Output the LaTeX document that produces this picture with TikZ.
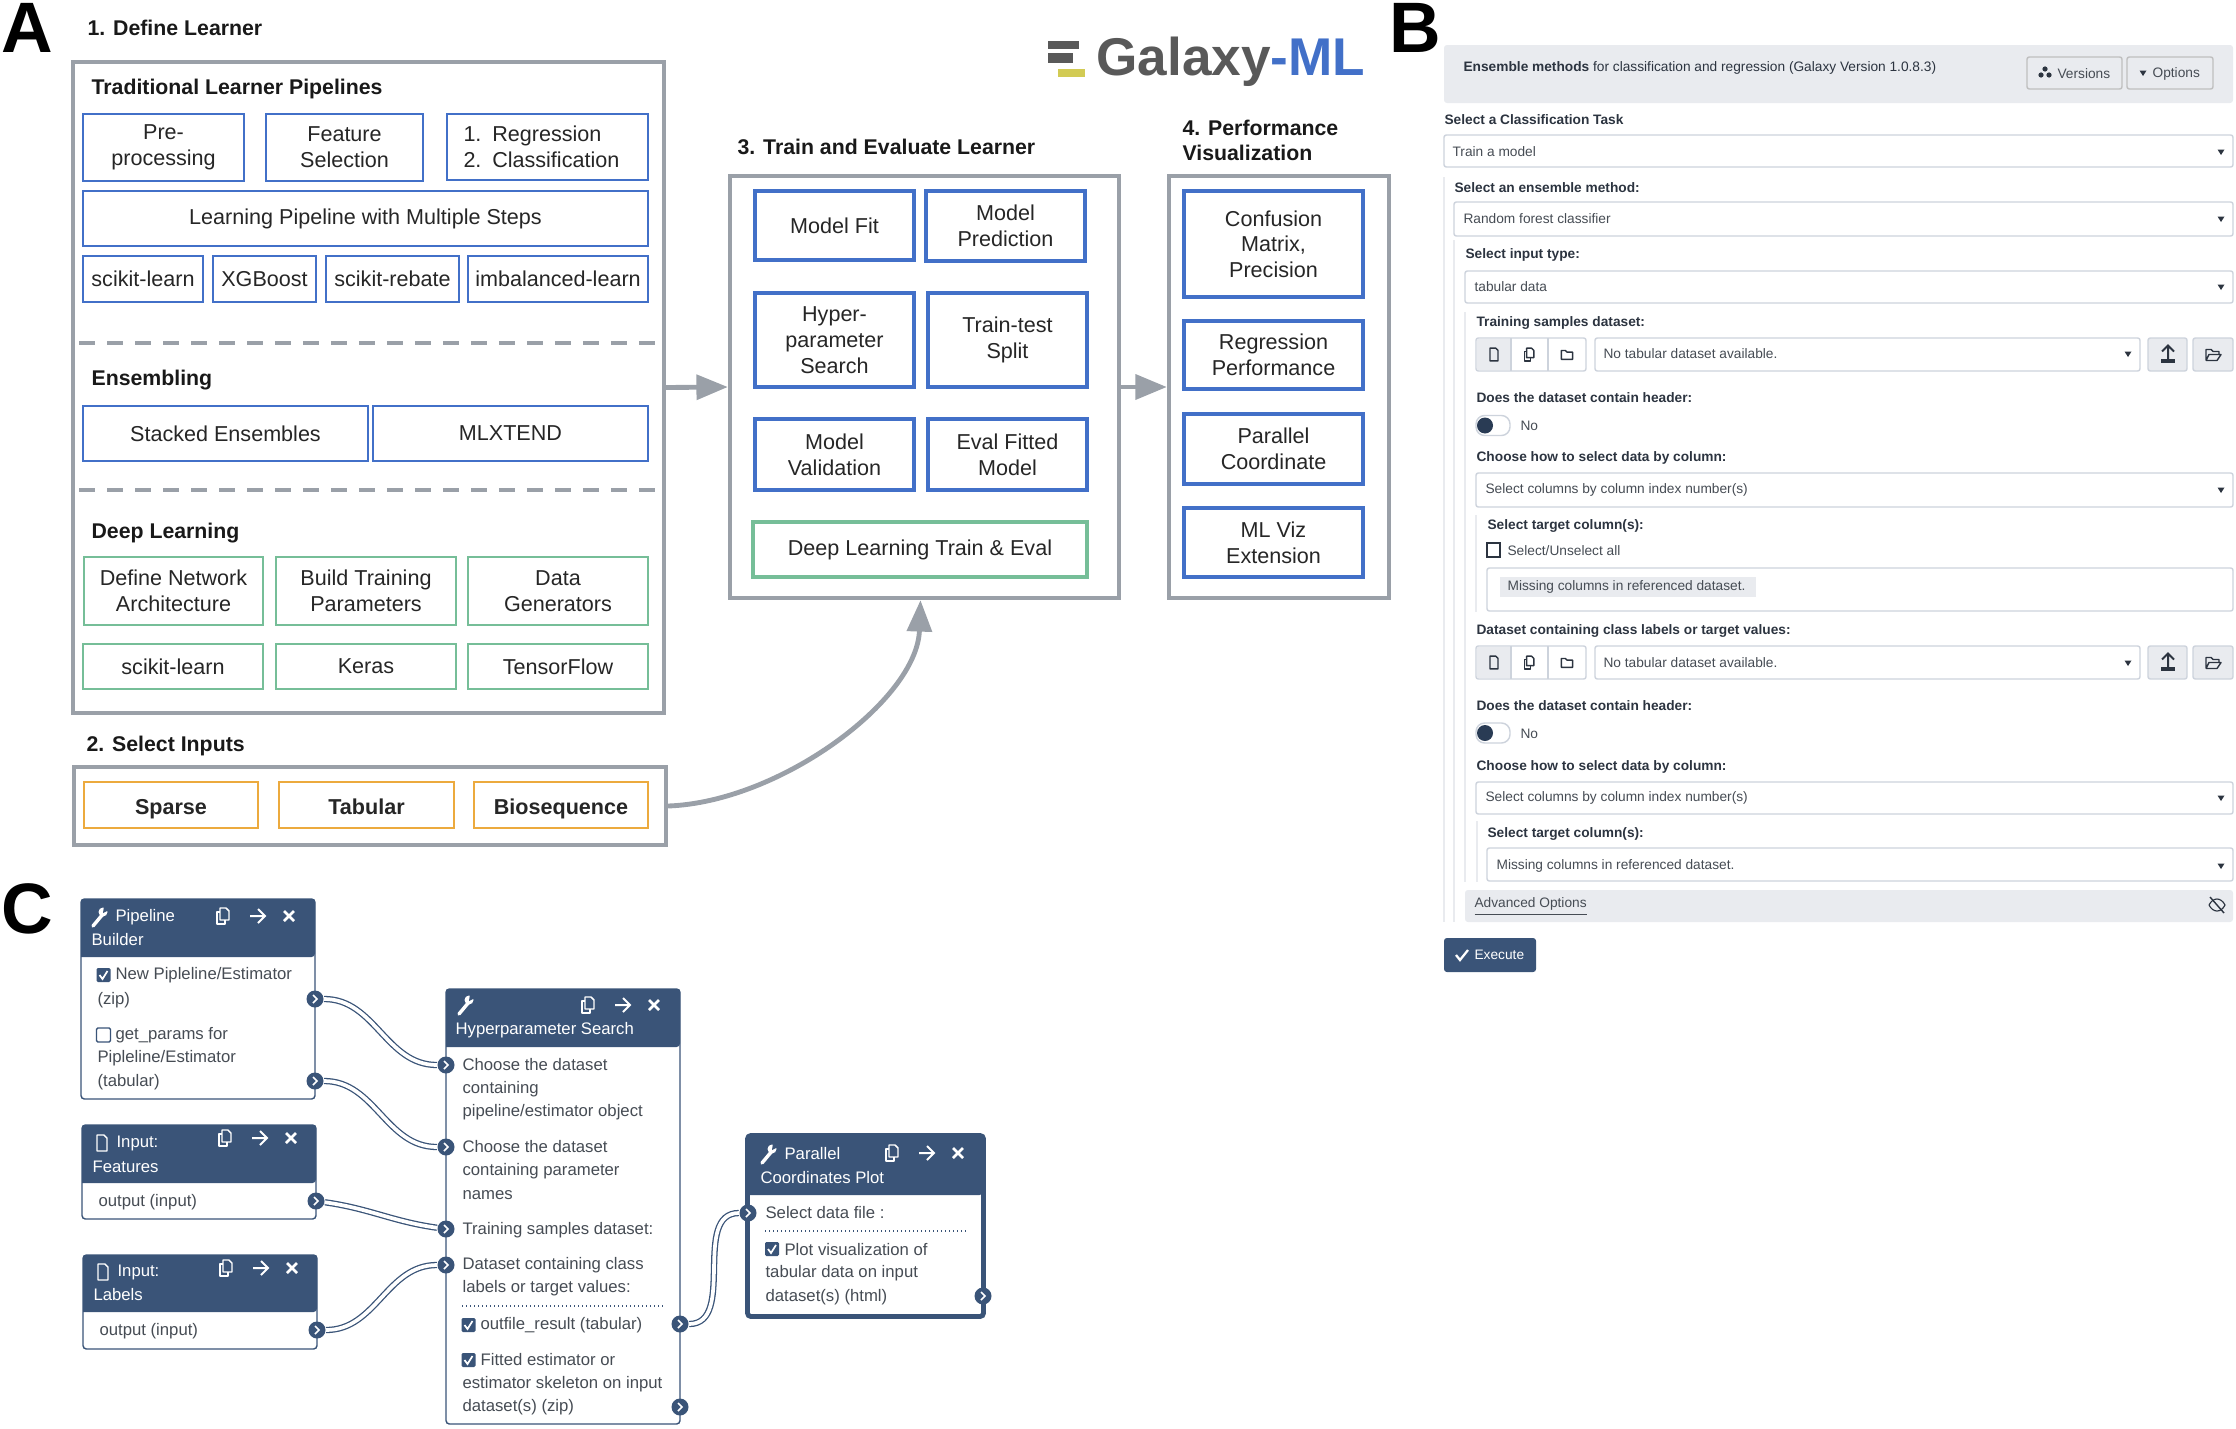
\documentclass[tikz,border=0pt]{standalone}
\usepackage{fontspec}
\setmainfont{Liberation Sans}
\usetikzlibrary{arrows.meta,positioning,calc}
\definecolor{boxgray}{RGB}{154,160,168}
\definecolor{boxblue}{RGB}{66,112,200}
\definecolor{boxgreen}{RGB}{118,190,152}
\definecolor{boxorange}{RGB}{236,170,62}
\definecolor{wfblue}{RGB}{58,84,120}
\definecolor{formgray}{RGB}{233,235,239}
\definecolor{formline}{RGB}{205,211,220}
\definecolor{formtxt}{RGB}{70,76,84}
\definecolor{formlab}{RGB}{44,52,64}
\def\pxu{0.35pt}
\newcommand{\labfont}{\fontsize{7.55}{9}\selectfont}
\newcommand{\headfont}{\fontsize{7.45}{8.9}\selectfont\bfseries}
\newcommand{\formfont}{\fontsize{4.8}{6}\selectfont}
\newcommand{\wffont}{\fontsize{5.85}{7}\selectfont}
\newcommand{\wfhead}[4]{\fill[wfblue] (#1,#4) [rounded corners=1.2pt] -- (#1,#3) -- (#2,#3) -- (#2,#4) [sharp corners] -- cycle;}
\tikzset{
  sz/.style 2 args={minimum width=#1*\pxu,minimum height=#2*\pxu},
  outerbox/.style={draw=boxgray,line width=1.5pt,inner sep=0pt},
  bluebox/.style={draw=boxblue,line width=0.9pt,fill=white,align=center,inner sep=0pt,font=\labfont,text=black!85},
  bluethick/.style={bluebox,line width=1.25pt},
  greenbox/.style={bluebox,draw=boxgreen},
  orangebox/.style={bluebox,draw=boxorange,font=\fontsize{7.55}{9}\selectfont\bfseries,text height=1.7ex,text depth=0.4ex},
  steptitle/.style={anchor=west,inner sep=0pt,font=\headfont,align=left,text=black!90,yshift=-0.3pt},
  paneltag/.style={anchor=west,inner sep=0pt,font=\fontsize{25}{25}\selectfont\bfseries},
  sepline/.style={draw=boxgray,line width=1.2pt,dash pattern=on 5.6pt off 4.2pt},
  flowarrow/.style={draw=boxgray,line width=1.7pt,-{Triangle[length=11pt,width=8.6pt]}},
  formtext/.style={anchor=west,inner sep=0pt,font=\formfont,text=formtxt},
  formhead/.style={anchor=west,inner sep=0pt,font=\formfont\bfseries,text=formlab,yshift=-0.3pt},
  field/.style={draw=formline,line width=0.5pt,fill=white,rounded corners=0.8pt},
  nestline/.style={draw=formgray,line width=0.7pt},
  wfcard/.style={draw=wfblue,line width=0.5pt,fill=white,rounded corners=1.2pt,inner sep=0pt},
  wftext/.style={anchor=west,inner sep=0pt,font=\wffont,text=formtxt},
  wfwhite/.style={anchor=west,inner sep=0pt,font=\wffont,text=white},
  wire/.style={draw=wfblue,line width=0.45pt,double=white,double distance=1.3pt},
  port/.style={circle,fill=wfblue,inner sep=0pt,minimum size=17*\pxu,
    path picture={\draw[white,line width=0.55pt,shift={(path picture bounding box.center)}] (-2,-4) -- (2,0) -- (-2,4);}},
  wrenchicon/.pic={
    \draw[line width=1.2pt,line cap=round] (-7,9) -- (3,-3);
    \fill (3,-5) circle (4.5);
    \fill[wfblue] (4,-11) -- (9,-7) -- (3,-4) -- cycle;},
  docicon/.pic={
    \draw[line width=0.5pt,line join=round] (-5,-8) -- (2,-8) -- (5,-5) -- (5,8) -- (-5,8) -- cycle;},
  copyicon/.pic={
    \draw[line width=0.5pt,line join=round] (-3,-8) -- (3,-8) -- (6,-5) -- (6,4) -- (-3,4) -- cycle;
    \draw[line width=0.5pt,line join=round] (-3,-4) -- (-6,-4) -- (-6,8) -- (2,8) -- (2,4);},
  folderopen/.pic={
    \draw[line width=0.5pt,line join=round] (-7,6) -- (-7,-5) -- (-2,-5) -- (0,-3) -- (6,-3) -- (6,0) (-7,6) -- (4,6) -- (8,0) -- (-4,0) -- (-7,6);},
  foldericon/.pic={
    \draw[line width=0.5pt,line join=round] (-7,6) -- (-7,-5) -- (-2,-5) -- (0,-3) -- (7,-3) -- (7,6) -- cycle;},
  headtools/.pic={
    \pic[white] at (0,0) {copyicon};
    \draw[white,line width=0.7pt] (27,0) -- (42,0) (35,-7) -- (42,0) -- (35,7);
    \draw[white,line width=0.9pt] (61,-5) -- (71,5) (61,5) -- (71,-5);},
  chkon/.pic={
    \fill[wfblue,rounded corners=0.5pt] (-7,-7) rectangle (7,7);
    \draw[white,line width=0.6pt] (-4,0) -- (-1,4) -- (4,-4);},
  chkoff/.pic={\draw[wfblue,line width=0.5pt,rounded corners=0.5pt] (-7,-7) rectangle (7,7);},
  caret/.pic={\fill[formlab] (-3.5,-2.5) -- (3.5,-2.5) -- (0,3) -- cycle;},
}
\begin{document}
\begin{tikzpicture}[x=0.35pt,y=-0.35pt]
\useasboundingbox (0,0) rectangle (2236,1429);
% panel letters
\node[paneltag] (tagA) at (1,28) {A};
\node[paneltag] (tagB) at (1389,28) {B};
\node[paneltag] (tagC) at (1,909) {C};
% 1. define learner
\node[steptitle] (title1) at (87,27) {1. Define Learner};
\node[outerbox,sz={591}{651}] (learner) at (368.5,387.5) {};
\node[steptitle] (tradhead) at (91,88) {Traditional Learner Pipelines};
\node[bluebox,sz={161}{67}] (prep) at (163.5,147.5) {Pre-\\processing};
\node[bluebox,sz={157}{67}] (featsel) at (344.5,147.5) {Feature\\Selection};
\node[bluebox,sz={201}{66},text width=168*\pxu,align=left] (regclass) at (547.5,147) {1. Regression\\2. Classification};
\node[bluebox,sz={565}{55}] (multistep) at (365.5,218.5) {Learning Pipeline with Multiple Steps};
\node[bluebox,sz={120}{46}] (sklearn) at (143,279) {scikit-learn};
\node[bluebox,sz={103}{46}] (xgboost) at (264.5,279) {XGBoost};
\node[bluebox,sz={133}{46}] (rebate) at (392.5,279) {scikit-rebate};
\node[bluebox,sz={180}{46}] (imblearn) at (558,279) {imbalanced-learn};
\draw[sepline] (79,343) -- (658,343);
\node[steptitle] (enshead) at (91,379) {Ensembling};
\node[bluebox,sz={285}{55}] (stacked) at (225.5,433.5) {Stacked Ensembles};
\node[bluebox,sz={275}{55}] (mlxtend) at (510.5,433.5) {MLXTEND};
\draw[sepline] (79,490) -- (658,490);
\node[steptitle] (deephead) at (91,532) {Deep Learning};
\node[greenbox,sz={179}{68}] (network) at (173.5,591) {Define Network\\Architecture};
\node[greenbox,sz={180}{68}] (buildtrain) at (366,591) {Build Training\\Parameters};
\node[greenbox,sz={180}{68}] (datagen) at (558,591) {Data\\Generators};
\node[greenbox,sz={180}{45}] (sklearnb) at (173,666.5) {scikit-learn};
\node[greenbox,sz={180}{45}] (keras) at (366,666.5) {Keras};
\node[greenbox,sz={180}{45}] (tflow) at (558,666.5) {TensorFlow};
% 2. select inputs
\node[steptitle] (title2) at (86,745) {2. Select Inputs};
\node[outerbox,sz={592}{78}] (inputs) at (370,806) {};
\node[orangebox,sz={174}{46}] (sparse) at (171,805) {Sparse};
\node[orangebox,sz={175}{46}] (tabular) at (366.5,805) {Tabular};
\node[orangebox,sz={174}{46}] (bioseq) at (561,805) {Biosequence};
% 3. train and evaluate
\node[steptitle] (title3) at (737,146) {3. Train and Evaluate Learner};
\node[outerbox,sz={389}{422}] (trainbox) at (924.5,387) {};
\node[bluethick,sz={159}{69}] (modelfit) at (834.5,225.5) {Model Fit};
\node[bluethick,sz={159}{70}] (modelpred) at (1005.5,226) {Model\\Prediction};
\node[bluethick,sz={159}{94}] (hypersearch) at (834.5,340) {Hyper-\\parameter\\Search};
\node[bluethick,sz={159}{94}] (ttsplit) at (1007.5,340) {Train-test\\Split};
\node[bluethick,sz={159}{71}] (modelval) at (834.5,454.5) {Model\\Validation};
\node[bluethick,sz={159}{71}] (evalfit) at (1007.5,454.5) {Eval Fitted\\Model};
\node[greenbox,line width=1.25pt,sz={334}{55}] (dltrain) at (920,549.5) {Deep Learning Train \& Eval};
% 4. performance
\node[steptitle] (title4) at (1182,139.5) {4. Performance\\Visualization};
\node[outerbox,sz={220}{422}] (vizbox) at (1279,387) {};
\node[bluethick,sz={179}{106}] (confusion) at (1273.5,244) {Confusion\\Matrix,\\Precision};
\node[bluethick,sz={179}{68}] (regperf) at (1273.5,355) {Regression\\Performance};
\node[bluethick,sz={179}{70}] (parcoord) at (1273.5,449) {Parallel\\Coordinate};
\node[bluethick,sz={179}{69}] (mlviz) at (1273.5,542.5) {ML Viz\\Extension};
% flow arrows
\draw[flowarrow] (learner.east) -- (trainbox.west);
\draw[flowarrow] (trainbox.east) -- (vizbox.west);
\draw[flowarrow] (inputs.east) .. controls (780,802) and (917,700) .. ($(trainbox.south)+(-4,0)$);
% logo
\fill[black!65] (1048,41) rectangle (1079,49);
\fill[black!65] (1048,53) rectangle (1073,63);
\fill[yellow!75!black!80] (1058,69) rectangle (1085,77);
\node[anchor=base west,inner sep=0pt,font=\fontsize{18.6}{20}\selectfont\bfseries] (logo) at (1096,76) {\textcolor{black!65}{Galaxy}\textcolor{boxblue}{-ML}};
% B: form backgrounds
\foreach \x/\ya/\yb in {1444/177/922,1454/240/922,1465/312/882,1476/515/612,1477/821/882}
  \draw[nestline] (\x,\ya) -- (\x,\yb);
\fill[formgray,rounded corners=1pt] (1444,45) rectangle (2233,103);
\fill[formgray,rounded corners=1pt] (1465,890) rectangle (2233,922);
\foreach \xa/\ya/\yb in {1444/135/167,1454/202/236,1465/271/303,1476/473/507,1487/568/611,1476/782/814,1487/848/881}
  \draw[field] (\xa,\ya) rectangle (2233,\yb);
% B: dataset pickers and toggles
\foreach \ya/\yb/\yc in {338/371/354.5,646/679/662.5}{
  \draw[field] (1476,\ya) rectangle (1586,\yb);
  \fill[formgray] (1477,\ya+1) rectangle (1511,\yb-1);
  \draw[formline,line width=0.5pt] (1511,\ya) -- (1511,\yb) (1548,\ya) -- (1548,\yb);
  \pic[formlab,scale=0.8] at (1494,\yc) {docicon};
  \pic[formlab,scale=0.8] at (1529,\yc) {copyicon};
  \pic[formlab,scale=0.8] at (1567,\yc) {foldericon};
  \draw[field] (1595,\ya) rectangle (2140,\yb);
  \draw[field,fill=formgray] (2148,\ya) rectangle (2187,\yb);
  \draw[field,fill=formgray] (2193,\ya) rectangle (2233,\yb);
  \draw[formlab,line width=0.7pt] (2168,\yc+5) -- (2168,\yc-8) (2162,\yc-3) -- (2168,\yc-9) -- (2174,\yc-3);
  \fill[formlab] (2161,\yc+4) rectangle (2175,\yc+8);
  \pic[formlab] at (2213,\yc) {folderopen};
}
\foreach \yc in {425.5,733}{
  \draw[field,rounded corners=3pt] (1476,\yc-10) rectangle (1510,\yc+10);
  \fill[wfblue!70!black] (1485,\yc) circle (8);
}
\foreach \x/\y in {2221/152,2221/219,2221/287,2128/354,2221/490,2128/663,2221/798,2221/866}
  \pic at (\x,\y) {caret};
% B: tool header
\node[anchor=west,inner sep=0pt,font=\formfont,text=formlab] (tooltitle) at (1463,68) {\textbf{Ensemble methods} for classification and regression (Galaxy Version 1.0.8.3)};
\draw[field,draw=black!25,fill=formgray] (2027,57) rectangle (2122,89);
\draw[field,draw=black!25,fill=formgray] (2127,57) rectangle (2213,89);
\fill[formlab] (2045,69) circle (2.6) (2041,75) circle (2.6) (2049,75) circle (2.6);
\pic at (2143,73) {caret};
\node[formtext] (versions) at (2057,74) {Versions};
\node[formtext] (options) at (2152,74) {Options};
% B: labels
\foreach \x/\y/\txt [count=\i] in {1444/119/Select a Classification Task,1454/187/Select an ensemble method:,1465/254/Select input type:,
    1476/322/Training samples dataset:,1476/397/Does the dataset contain header:,1476/457/Choose how to select data by column:,
    1487/525/Select target column(s):,1476/630/Dataset containing class labels or target values:,
    1476/705/Does the dataset contain header:,1476/766/Choose how to select data by column:,1487/833/Select target column(s):}
  \node[formhead] (flab\i) at (\x,\y) {\txt};
\foreach \x/\y/\txt [count=\i] in {1452/152/Train a model,1463/219/Random forest classifier,1474/287/tabular data,
    1603/354/No tabular dataset available.,1520/426/No,1485/490/Select columns by column index number(s),
    1507/551/{Select/Unselect all},1603/663/No tabular dataset available.,1520/734/No,
    1485/798/Select columns by column index number(s),1496/866/Missing columns in referenced dataset.}
  \node[formtext] (fval\i) at (\x,\y) {\txt};
\draw[formlab,line width=0.4pt] (1487,543) rectangle (1500,557);
\fill[formgray] (1500,577) rectangle (1756,597);
\node[formtext] (chip) at (1507,587) {Missing columns in referenced dataset.};
% B: advanced options and execute
\node[formtext] (advanced) at (1474,907) {\underline{Advanced Options}};
\draw[formlab,line width=0.4pt] (2209,905) .. controls (2213,897) and (2221,897) .. (2225,905) .. controls (2221,913) and (2213,913) .. (2209,905);
\draw[formlab,line width=0.5pt] (2210,897) -- (2224,913);
\fill[wfblue,rounded corners=1pt] (1444,938) rectangle (1536,972);
\draw[white,line width=0.8pt] (1456,955) -- (1460,960) -- (1468,950);
\node[formtext,text=white] (execute) at (1474,955) {Execute};
% C: workflow cards
\node[wfcard,sz={234}{200}] (pipecard) at (198,999) {};
\wfhead{81}{315}{899}{957}
\node[wfcard,sz={234}{94}] (featcard) at (199,1172) {};
\wfhead{82}{316}{1125}{1183}
\node[wfcard,sz={234}{94}] (labcard) at (200,1302) {};
\wfhead{83}{317}{1255}{1312}
\node[wfcard,sz={234}{435}] (hypercard) at (563,1206.5) {};
\wfhead{446}{680}{989}{1047}
\node[wfcard,line width=1.7pt,sz={236}{181}] (parcard) at (865.5,1226) {};
\wfhead{748}{983}{1136}{1195}
\pic[white] at (100,917) {wrenchicon};
\pic[white] at (102,1143) {docicon};
\pic[white] at (103,1272) {docicon};
\pic[white] at (466,1005) {wrenchicon};
\pic[white] at (769,1154) {wrenchicon};
\pic at (223,916) {headtools};
\pic at (225,1138) {headtools};
\pic at (226,1268) {headtools};
\pic at (588,1005) {headtools};
\pic at (892,1153) {headtools};
\foreach \x/\y/\txt [count=\i] in {115/917/Pipeline,91/940/Builder,116/1143/Input:,92/1167/Features,117/1272/Input:,93/1295/Labels,
    455/1030/Hyperparameter Search,784/1154/Parallel,760/1178/Coordinates Plot}
  \node[wfwhite] (whead\i) at (\x,\y) {\txt};
\foreach \x/\y/\txt [count=\i] in {115/975/{New Pipleline/Estimator},97/1000/(zip),115/1035/get\_params for,97/1058/{Pipleline/Estimator},97/1082/(tabular),
    98/1202/output (input),99/1331/output (input),
    462/1065/Choose the dataset,462/1089/containing,462/1112/{pipeline/estimator object},462/1147/Choose the dataset,462/1171/containing parameter,462/1195/names,
    462/1230/Training samples dataset:,462/1265/Dataset containing class,462/1288/labels or target values:,480/1325/outfile\_result (tabular),
    480/1360/Fitted estimator or,462/1384/estimator skeleton on input,462/1407/dataset(s) (zip),
    765/1213/Select data file :,784/1250/Plot visualization of,765/1273/tabular data on input,765/1297/dataset(s) (html)}
  \node[wftext] (wtxt\i) at (\x,\y) {\txt};
\draw[wfblue,line width=0.4pt,densely dotted] (462,1306) -- (664,1306);
\draw[wfblue,line width=0.4pt,densely dotted] (765,1231) -- (967,1231);
\pic at (103.5,975) {chkon};
\pic at (103.5,1035) {chkoff};
\pic at (468.5,1325) {chkon};
\pic at (468.5,1360) {chkon};
\pic at (772,1249) {chkon};
% C: ports and wires
\node[port] (pipeoutA) at (315,999) {};
\node[port] (pipeoutB) at (315,1081) {};
\node[port] (featout) at (316,1201) {};
\node[port] (labout) at (317,1330) {};
\node[port] (hyperinA) at (446,1065) {};
\node[port] (hyperinB) at (446,1147) {};
\node[port] (hyperinC) at (446,1229) {};
\node[port] (hyperinD) at (446,1265) {};
\node[port] (hyperoutA) at (680,1324) {};
\node[port] (hyperoutB) at (680,1407) {};
\node[port] (parin) at (748,1213) {};
\node[port] (parout) at (983,1296) {};
\draw[wire] (pipeoutA) to[out=0,in=180] (hyperinA);
\draw[wire] (pipeoutB) to[out=0,in=180] (hyperinB);
\draw[wire] (featout) to[out=-8,in=172] (hyperinC);
\draw[wire] (labout) to[out=0,in=180] (hyperinD);
\draw[wire] (hyperoutA) to[out=0,in=180] (parin);
\end{tikzpicture}
\end{document}
